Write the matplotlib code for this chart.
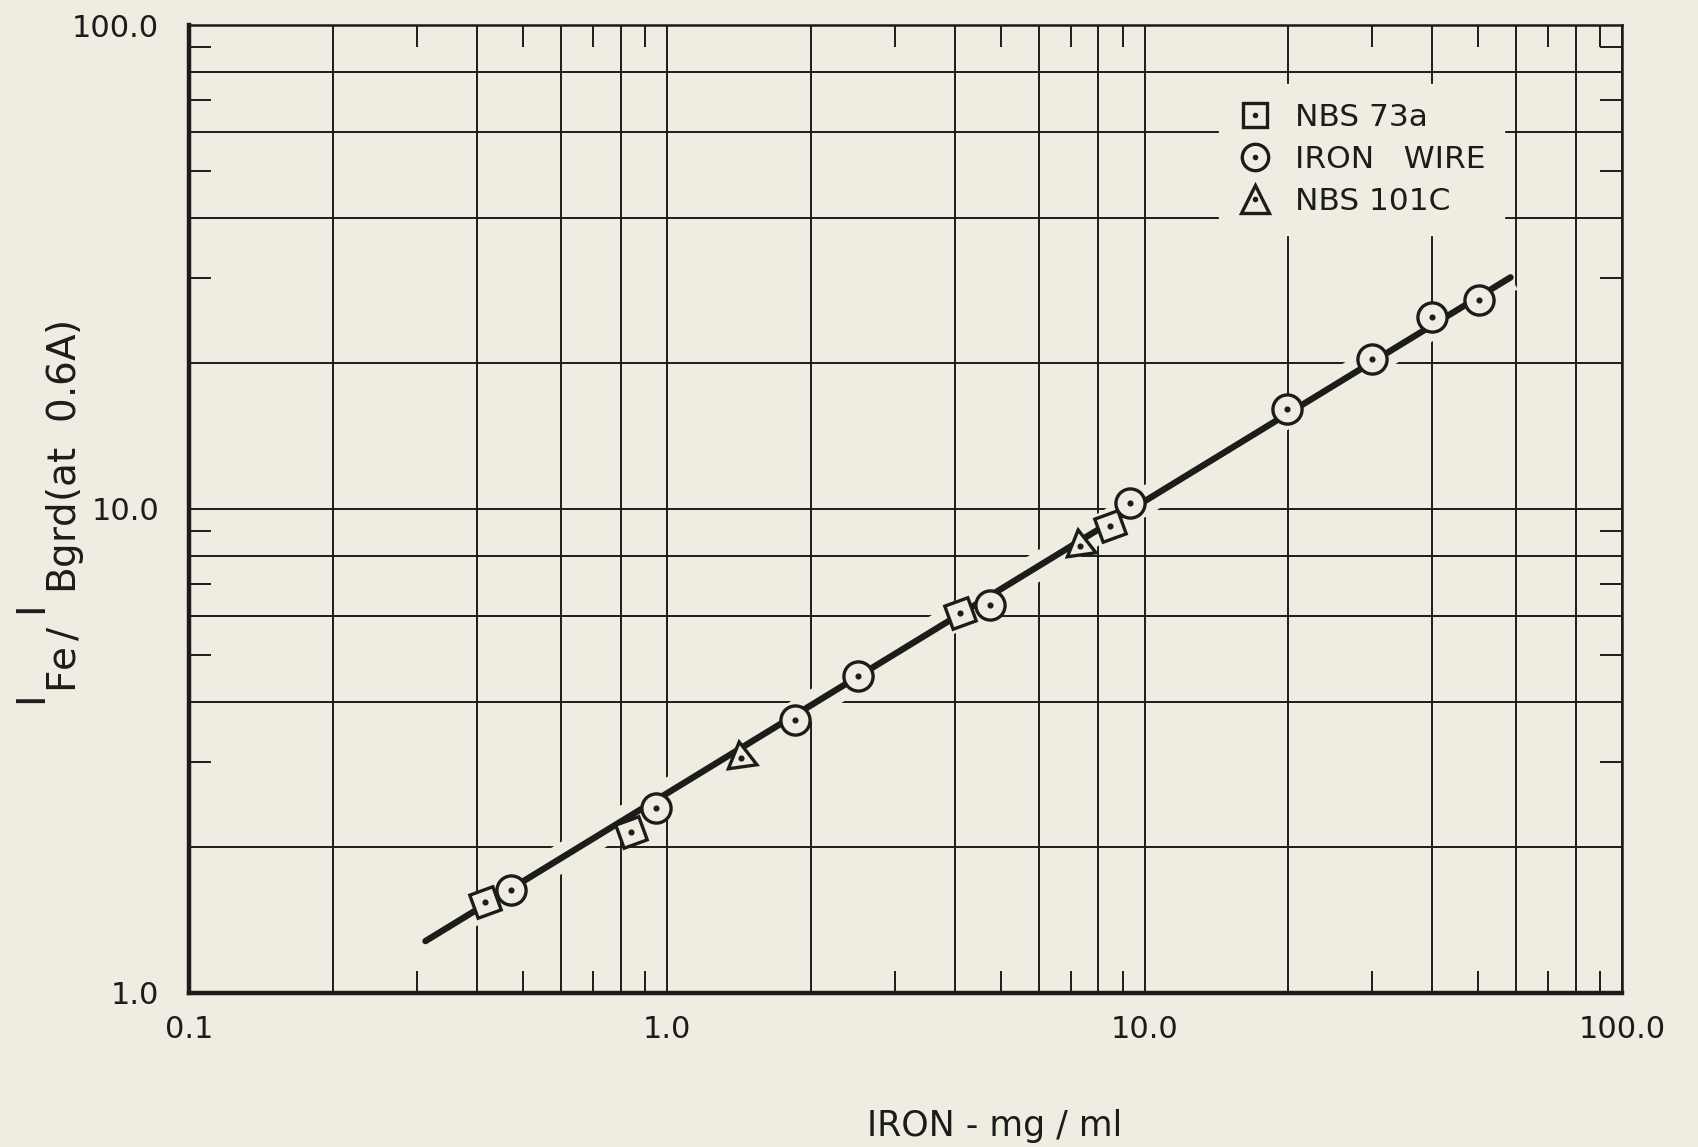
import numpy as np
import matplotlib.pyplot as plt
from matplotlib.ticker import FixedLocator, FuncFormatter, NullFormatter
from matplotlib.lines import Line2D

# ------------------------------ DATA ------------------------------
nbs73a_x = [0.416, 0.842, 4.10, 8.46]
nbs73a_y = [1.54, 2.15, 6.10, 9.21]

wire_x = [0.472, 0.949, 1.85, 2.51, 4.74, 9.34, 19.9, 29.9, 39.9, 50.2]
wire_y = [1.63, 2.41, 3.66, 4.52, 6.32, 10.3, 16.1, 20.4, 24.9, 27.0]

nbs101c_x = [1.43, 7.31]
nbs101c_y = [3.06, 8.39]

fit_x = [0.312, 58.4]
fit_y = [1.28, 30.1]

grid_vals = [0.1, 0.2, 0.4, 0.6, 0.8, 1, 2, 4, 6, 8, 10, 20, 40, 60, 80, 100]
minor_vals = [0.3, 0.5, 0.7, 0.9, 3, 5, 7, 9, 30, 50, 70, 90]
tick_labels = {0.1: '0.1', 1: '1.0', 10: '10.0', 100: '100.0'}

legend_labels = ['NBS 73a', 'IRON   WIRE', 'NBS 101C']

# ------------------------------ STYLE ------------------------------
bg = '#efede2'
ink = '#1c1c1a'
plt.rcParams['font.family'] = ['DejaVu Sans']

fig = plt.figure(figsize=(16.98, 11.47), dpi=100, facecolor=bg)
ax = fig.add_axes([0.1116, 0.1343, 0.8437, 0.8439], facecolor=bg)
ax.set_xscale('log')
ax.set_yscale('log')
ax.set_xlim(0.1, 100)
ax.set_ylim(1, 100)

for axis in (ax.xaxis, ax.yaxis):
    axis.set_major_locator(FixedLocator(grid_vals))
    axis.set_major_formatter(FuncFormatter(lambda v, p: tick_labels.get(round(v, 3), '')))
    axis.set_minor_locator(FixedLocator(minor_vals))
    axis.set_minor_formatter(NullFormatter())

ax.grid(True, which='major', color=ink, linewidth=1.4, zorder=0)
ax.tick_params(which='major', length=0, labelsize=22, labelcolor=ink)
ax.tick_params(axis='y', which='major', pad=22)
ax.tick_params(axis='x', which='major', pad=16)
ax.tick_params(which='minor', direction='in', length=16, width=1.4, color=ink,
               top=True, right=True)

for side in ('left', 'bottom'):
    ax.spines[side].set_linewidth(3.2)
for side in ('top', 'right'):
    ax.spines[side].set_linewidth(1.8)
for s in ax.spines.values():
    s.set_color(ink)

# fitted line, with a paper-coloured halo so the grid breaks around it
ax.plot(fit_x, fit_y, color=bg, linewidth=20, solid_capstyle='butt', zorder=2)
ax.plot(fit_x, fit_y, color=ink, linewidth=4.6, solid_capstyle='round', zorder=3)

mk = dict(linestyle='none', markerfacecolor=bg, markeredgecolor=ink,
          markeredgewidth=2.4)
dot = dict(linestyle='none', marker='o', markersize=3.4, color=ink)

ax.plot(nbs73a_x, nbs73a_y, marker=(4, 0, 65), markersize=25, zorder=4, **mk)
ax.plot(nbs73a_x, nbs73a_y, zorder=5, **dot)
ax.plot(wire_x, wire_y, marker='o', markersize=21, zorder=4, **mk)
ax.plot(wire_x, wire_y, zorder=5, **dot)
ax.plot(nbs101c_x, nbs101c_y, marker=(3, 0, 8), markersize=24, zorder=4, **mk)
ax.plot(nbs101c_x, nbs101c_y, zorder=5, **dot)

centre = Line2D([], [], marker='o', markersize=3, color=ink, linestyle='none')
h_sq = (Line2D([], [], marker='s', markersize=17, **mk), centre)
h_ci = (Line2D([], [], marker='o', markersize=19, **mk), centre)
h_tr = (Line2D([], [], marker='^', markersize=20, **mk), centre)

leg = ax.legend([h_sq, h_ci, h_tr], legend_labels, loc='upper left',
                bbox_to_anchor=(0.708, 0.955), frameon=True, fancybox=False,
                facecolor=bg, edgecolor=bg, framealpha=1, fontsize=22.5,
                handlelength=1.1, handletextpad=0.72, labelspacing=0.42,
                borderpad=0.6, labelcolor=ink)
leg.set_zorder(6)

fig.text(0.586, 0.0185, 'IRON - mg / ml', ha='center', va='center',
         fontsize=25, color=ink)
fig.text(0.030, 0.552,
         r'$\mathregular{{}^{I}{}_{Fe\,/}\,{}^{I}\,{}_{Bgrd(at\ \ 0.6A)}}$',
         rotation=90, ha='center', va='center', fontsize=40, color=ink)

fig.savefig('out.png', dpi=100, facecolor=bg)
